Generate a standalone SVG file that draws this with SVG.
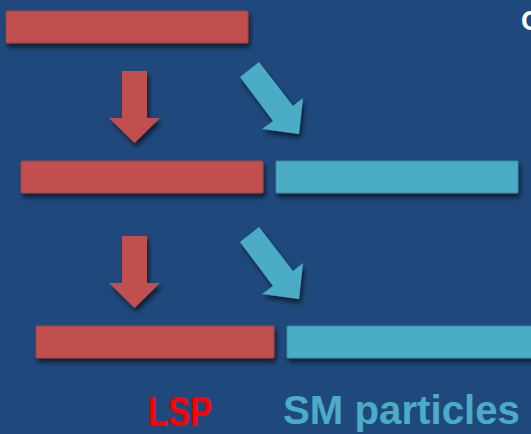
<svg xmlns="http://www.w3.org/2000/svg" width="531" height="434" viewBox="0 0 531 434">
  <defs>
    <filter id="shadow" x="-20%" y="-40%" width="140%" height="200%">
      <feDropShadow dx="2" dy="4" stdDeviation="2.5" flood-color="#000000" flood-opacity="0.6"/>
    </filter>
    <polygon id="down-arrow" points="122,71 147,71 147,118 160,118 134.5,143 109,118 122,118"/>
    <polygon id="diag-arrow" points="240,77 259,62 293,106 303,98 299,134 262,129 273,121"/>
  </defs>
  <style>
    .lsp { fill: #C0504D; stroke: #A0403E; stroke-width: 1; filter: url(#shadow); }
    .sm { fill: #4BACC6; stroke: #3A8AA0; stroke-width: 1; filter: url(#shadow); }
    .arrow-red { fill: #C0504D; filter: url(#shadow); }
    .arrow-cyan { fill: #4BACC6; filter: url(#shadow); }
    .label { font-family: "Liberation Sans", Arial, sans-serif; font-weight: bold; }
  </style>

  <!-- background -->
  <rect x="0" y="0" width="531" height="434" fill="#1F497D"/>

  <!-- stage 1 -->
  <g id="bar-top">
    <rect class="lsp" x="6" y="11" width="242" height="32" rx="1"/>
  </g>

  <!-- stage 2 -->
  <g id="bar-mid-lsp">
    <rect class="lsp" x="21" y="161" width="242" height="32" rx="1"/>
  </g>
  <g id="bar-mid-sm">
    <rect class="sm" x="276" y="161" width="242" height="32" rx="1"/>
  </g>

  <!-- stage 3 -->
  <g id="bar-low-lsp">
    <rect class="lsp" x="36" y="326" width="238" height="32" rx="1"/>
  </g>
  <g id="bar-low-sm">
    <rect class="sm" x="287" y="326" width="260" height="32" rx="1"/>
  </g>

  <!-- decay arrows -->
  <g id="connectors">
    <use href="#down-arrow" class="arrow-red"/>
    <use href="#diag-arrow" class="arrow-cyan"/>
    <use href="#down-arrow" class="arrow-red" transform="translate(0,165)"/>
    <use href="#diag-arrow" class="arrow-cyan" transform="translate(0,165)"/>
  </g>

  <!-- legend -->
  <g id="legend">
    <text class="label" x="148" y="426" font-size="42" fill="#FF0000" textLength="64" lengthAdjust="spacingAndGlyphs">LSP</text>
    <text class="label" x="283" y="424" font-size="40" fill="#4BACC6" textLength="237" lengthAdjust="spacingAndGlyphs">SM particles</text>
  </g>

  <!-- title running off the right edge -->
  <text class="label" x="521" y="30" font-size="28" fill="#FFFFFF">C</text>
</svg>
